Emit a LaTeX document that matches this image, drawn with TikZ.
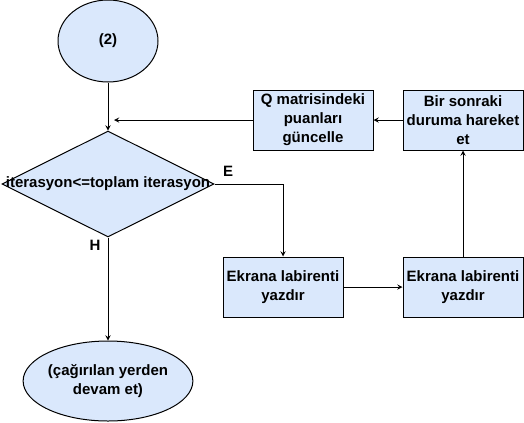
\documentclass[tikz,border=0pt]{standalone}
\usepackage{fontspec}
\setmainfont{Liberation Sans}
\usetikzlibrary{shapes.geometric}
\definecolor{boxfill}{HTML}{DAE8FC}
\begin{document}
\begin{tikzpicture}[>=stealth, x=0.75pt, y=-0.75pt, line width=0.75pt,
        font=\fontsize{11.25}{14.25}\selectfont\bfseries]
            \tikzset{
                stepbox/.style={rectangle, draw, fill=boxfill, minimum width=90pt, minimum height=45pt, align=center, inner sep=1pt},
                term/.style={ellipse, draw, fill=boxfill, align=center, inner sep=0pt},
                cond/.style={diamond, draw, fill=boxfill, minimum width=159pt, minimum height=79.5pt, inner sep=0pt}
            };
            \useasboundingbox (0, 0) rectangle (524, 422);
            \node[term, minimum width=75pt, minimum height=61.5pt] (start) at (108, 41) {(2)};
            \node[cond] (test) at (108, 184) {};
            \node (testtext) at (108, 184) {iterasyon<=toplam iterasyon};
            \node[term, minimum width=95pt, minimum height=60pt] (stop) at (108, 381) {(çağırılan yerden\\devam et)};
            \node[stepbox] (update) at (313, 120) {Q matrisindeki\\puanları\\güncelle};
            \node[stepbox] (move) at (463, 120) {Bir sonraki\\duruma hareket\\et};
            \node[stepbox] (print1) at (283, 287) {Ekrana labirenti\\yazdır};
            \node[stepbox] (print2) at (463, 287) {Ekrana labirenti\\yazdır};
            \coordinate (merge) at (114, 120);
            \draw[->] (start) -- (test.north);
            \draw[->] (update.west) -- (merge);
            \draw[->] (move) -- (update);
            \draw[->] (test.east) -| (print1.north) node[pos=0.1, above, yshift=2pt] {E};
            \draw[->] (print1) -- (print2);
            \draw[->] (print2) -- (move);
            \draw[->] (test.south) -- (stop.north) node[pos=0.08, left, xshift=-2pt] {H};
        \end{tikzpicture}
\end{document}
